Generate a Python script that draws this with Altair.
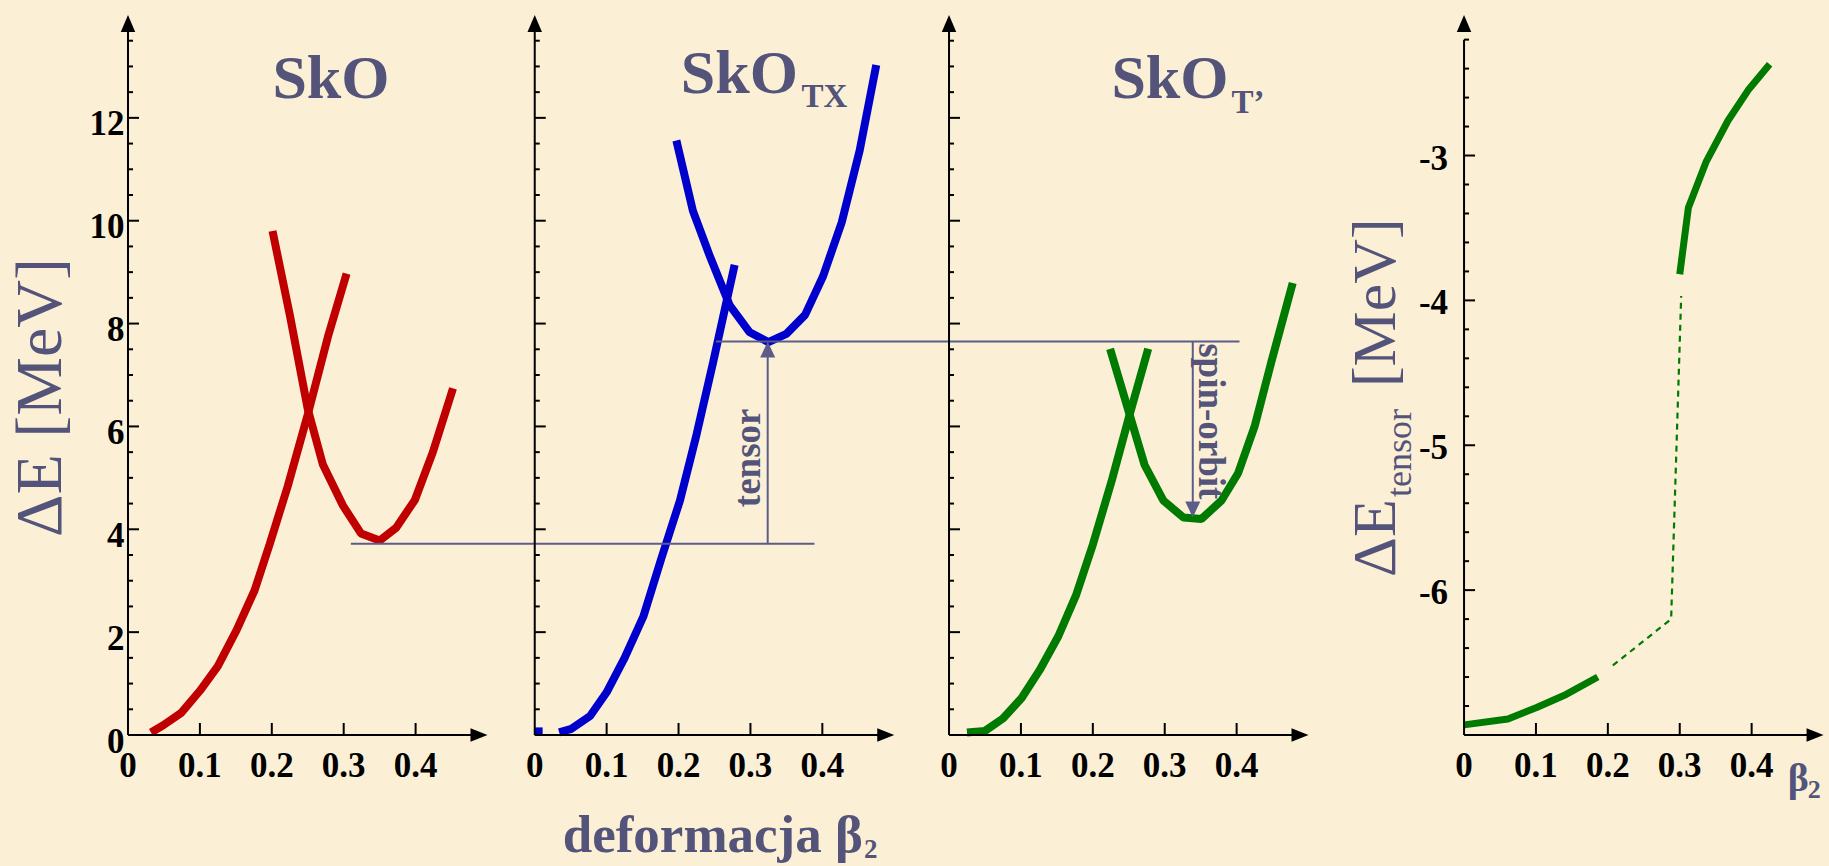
import altair as alt
import pandas as pd

# ---------------------------------------------------------------------------
# Layout: the four panels share one horizontal deformation scale; each panel
# starts at its own origin (in beta units) along that scale.
# ---------------------------------------------------------------------------
PX_PER_BETA = 719.0
PLOT_W, PLOT_H = 1701, 720
PAD = {"left": 128, "top": 15, "right": 0, "bottom": 131}
PANEL_ORIGIN = [0.0, 0.5657, 1.1419, 1.8582]
BETA_END = 0.5
X_MAX = PLOT_W / PX_PER_BETA
E_DOMAIN = [0, 14]
ET_DOMAIN = [-7, -2.03]

BG = "#FBF0D6"
INK = "#54547A"
RULE_C = "#5C5C88"
RED, BLUE, GREEN = "#C00000", "#0000CC", "#007A00"
SERIF = "Liberation Serif"

# ---------------------------------------------------------------------------
# Ticks and labels
# ---------------------------------------------------------------------------
BETA_TICKS = [0.1, 0.2, 0.3, 0.4]
BETA_LABEL_VALUES = [0, 0.1, 0.2, 0.3, 0.4]
BETA_LABELS = ["0", "0.1", "0.2", "0.3", "0.4"]
E_LABELS = [0, 2, 4, 6, 8, 10, 12]
E_MAJOR = [2, 4, 6, 8, 10, 12]
E_MINOR = [0.5, 1, 1.5, 2.5, 3, 3.5, 4.5, 5, 5.5, 6.5, 7, 7.5, 8.5, 9, 9.5,
           10.5, 11, 11.5, 12.5, 13, 13.5]
ET_MAJOR = [-6, -5, -4, -3]
ET_LABELS = ["-6", "-5", "-4", "-3"]
ET_MINOR = [-6.8, -6.6, -6.4, -6.2, -5.8, -5.6, -5.4, -5.2, -4.8, -4.6, -4.4,
            -4.2, -3.8, -3.6, -3.4, -3.2, -2.8, -2.6, -2.4, -2.2]

# ---------------------------------------------------------------------------
# Energy curves  (beta_2, Delta E in MeV)
# ---------------------------------------------------------------------------
sko_a_beta = [0.032, 0.049, 0.074, 0.100, 0.125, 0.151, 0.176, 0.197, 0.222, 0.250, 0.278, 0.304]
sko_a_E = [0.05, 0.19, 0.43, 0.86, 1.34, 2.04, 2.81, 3.71, 4.83, 6.23, 7.74, 8.97]
sko_b_beta = [0.201, 0.225, 0.250, 0.271, 0.299, 0.324, 0.350, 0.373, 0.399, 0.424, 0.452]
sko_b_E = [9.80, 8.17, 6.34, 5.26, 4.46, 3.92, 3.78, 4.03, 4.57, 5.50, 6.74]

tx_stub_beta = [0.0, 0.011]
tx_stub_E = [0.07, 0.07]
tx_a_beta = [0.034, 0.051, 0.077, 0.100, 0.125, 0.151, 0.176, 0.202, 0.225, 0.248, 0.278]
tx_a_E = [0.05, 0.12, 0.37, 0.83, 1.50, 2.30, 3.43, 4.56, 5.84, 7.24, 9.14]
tx_b_beta = [0.197, 0.220, 0.243, 0.271, 0.299, 0.325, 0.350, 0.376, 0.401, 0.427, 0.452, 0.475]
tx_b_E = [11.56, 10.19, 9.33, 8.36, 7.83, 7.64, 7.80, 8.17, 8.92, 9.97, 11.37, 13.03]

tp_a_beta = [0.025, 0.050, 0.075, 0.101, 0.126, 0.152, 0.177, 0.200, 0.226, 0.251, 0.277]
tp_a_E = [0.05, 0.08, 0.32, 0.72, 1.26, 1.92, 2.73, 3.70, 4.93, 6.22, 7.51]
tp_b_beta = [0.224, 0.249, 0.272, 0.298, 0.326, 0.351, 0.379, 0.402, 0.425, 0.448, 0.478]
tp_b_E = [7.51, 6.33, 5.25, 4.56, 4.23, 4.20, 4.56, 5.09, 6.00, 7.24, 8.79]

# tensor contribution  (beta_2, Delta E_tensor in MeV)
ten_a_beta = [0.0, 0.061, 0.101, 0.142, 0.186]
ten_a_E = [-6.93, -6.89, -6.81, -6.72, -6.60]
ten_gap_beta = [0.207, 0.288, 0.302]
ten_gap_E = [-6.52, -6.20, -3.97]
ten_b_beta = [0.300, 0.312, 0.337, 0.367, 0.395, 0.425]
ten_b_E = [-3.82, -3.36, -3.04, -2.76, -2.55, -2.37]

# reference levels and arrows
SKO_MIN_E = 3.72
TX_MIN_E = 7.65
TP_MIN_E = 4.23
LOW_LINE = (0, 0.31, 1, 0.389)      # (panel, beta) start -> (panel, beta) end
HIGH_LINE = (1, 0.252, 2, 0.404)
TENSOR_ARROW_BETA = 0.324
SPIN_ARROW_BETA = 0.339


def gx(panel, beta):
    return PANEL_ORIGIN[panel] + beta


def curve_rows(panel, name, betas, values, key="E"):
    return [{"x": gx(panel, b), key: v, "series": name, "i": k}
            for k, (b, v) in enumerate(zip(betas, values))]


X_SCALE = alt.Scale(domain=[0, X_MAX], nice=False, zero=False)
Y_SCALE = alt.Scale(domain=E_DOMAIN, nice=False, zero=False)
YT_SCALE = alt.Scale(domain=ET_DOMAIN, nice=False, zero=False)

# the zero label is nudged left so it clears the beta-axis "0" below it
Y_AXIS = alt.Axis(
    values=E_LABELS, format="d", grid=False, domain=False, ticks=False, tickSize=0,
    labelExpr="datum.value == 0 ? '0\u00a0\u00a0' : datum.label",
    labelFont=SERIF, labelFontWeight="bold", labelFontSize=35, labelColor="black",
    labelPadding=4, labelOffset=6,
    title="ΔE [MeV]", titleFont=SERIF, titleFontWeight="normal", titleFontSize=66,
    titleColor=INK, titleAngle=270, titleX=-68, titleY=382,
    titleAlign="center", titleBaseline="alphabetic",
)


def X():
    return alt.X("x:Q", scale=X_SCALE, axis=None)


def Y():
    return alt.Y("E:Q", scale=Y_SCALE, axis=Y_AXIS)


def YT():
    return alt.Y("ET:Q", scale=YT_SCALE, axis=None)


# ---------------------------------------------------------------------------
# Panels 1-3 : total energy curves
# ---------------------------------------------------------------------------
SERIES = ["sko_a", "sko_b", "tx_stub", "tx_a", "tx_b", "tp_a", "tp_b"]
SERIES_COLORS = [RED, RED, BLUE, BLUE, BLUE, GREEN, GREEN]
rows = (curve_rows(0, "sko_a", sko_a_beta, sko_a_E)
        + curve_rows(0, "sko_b", sko_b_beta, sko_b_E)
        + curve_rows(1, "tx_stub", tx_stub_beta, tx_stub_E)
        + curve_rows(1, "tx_a", tx_a_beta, tx_a_E)
        + curve_rows(1, "tx_b", tx_b_beta, tx_b_E)
        + curve_rows(2, "tp_a", tp_a_beta, tp_a_E)
        + curve_rows(2, "tp_b", tp_b_beta, tp_b_E))
curves_df = pd.DataFrame(rows)

curves = alt.Chart(curves_df).mark_line(strokeWidth=8, strokeCap="butt", strokeJoin="bevel").encode(
    x=X(), y=Y(),
    color=alt.Color("series:N", scale=alt.Scale(domain=SERIES, range=SERIES_COLORS), legend=None),
    detail="series:N", order="i:Q",
)

# axis lines (beta axes for all four panels sit at the same height)
xaxis_df = pd.DataFrame({"x": [gx(p, 0) for p in range(4)],
                         "x2": [gx(p, BETA_END - 0.01) for p in range(4)],
                         "E": [0] * 4})
xaxis_lines = alt.Chart(xaxis_df).mark_rule(color="black", strokeWidth=2).encode(
    x=X(), x2="x2:Q", y=Y())

xarrow_df = pd.DataFrame({"x": [gx(p, BETA_END) for p in range(4)], "E": [0] * 4})
xarrows = alt.Chart(xarrow_df).mark_point(
    shape="M1,0L-1,-0.8L-1,0.8Z", size=289, filled=True, opacity=1, color="black",
    strokeWidth=0, xOffset=-8.5).encode(x=X(), y=Y())

xtick_df = pd.DataFrame([{"x": gx(p, b), "E": 0} for p in range(4) for b in BETA_TICKS])
xticks = alt.Chart(xtick_df).mark_rule(color="black", strokeWidth=2, y2Offset=-12).encode(
    x=X(), y=Y(), y2="E:Q")

xlab_df = pd.DataFrame([{"x": gx(p, v), "E": 0, "t": t}
                        for p in range(4) for v, t in zip(BETA_LABEL_VALUES, BETA_LABELS)])
xlabels = alt.Chart(xlab_df).mark_text(
    font=SERIF, fontSize=35, fontWeight="bold", color="black",
    align="center", baseline="alphabetic", dy=42).encode(x=X(), y=Y(), text="t:N")

yaxis_df = pd.DataFrame({"x": [gx(p, 0) for p in range(3)], "E": [0] * 3, "E2": [13.8] * 3})
yaxis_lines = alt.Chart(yaxis_df).mark_rule(color="black", strokeWidth=2).encode(
    x=X(), y=Y(), y2="E2:Q")

yarrow_df = pd.DataFrame({"x": [gx(p, 0) for p in range(3)], "E": [E_DOMAIN[1]] * 3})
yarrows = alt.Chart(yarrow_df).mark_point(
    shape="M0,-1L-0.85,1L0.85,1Z", size=289, filled=True, opacity=1, color="black",
    strokeWidth=0, yOffset=8.5).encode(x=X(), y=Y())

ymaj_df = pd.DataFrame([{"x": gx(p, 0), "E": v} for p in range(3) for v in E_MAJOR])
ymin_df = pd.DataFrame([{"x": gx(p, 0), "E": v} for p in range(3) for v in E_MINOR])
ymaj = alt.Chart(ymaj_df).mark_rule(color="black", strokeWidth=2, x2Offset=11).encode(
    x=X(), x2="x:Q", y=Y())
ymin = alt.Chart(ymin_df).mark_rule(color="black", strokeWidth=2, x2Offset=5).encode(
    x=X(), x2="x:Q", y=Y())

# reference levels
hl_df = pd.DataFrame([
    {"x": gx(LOW_LINE[0], LOW_LINE[1]), "x2": gx(LOW_LINE[2], LOW_LINE[3]), "E": SKO_MIN_E},
    {"x": gx(HIGH_LINE[0], HIGH_LINE[1]), "x2": gx(HIGH_LINE[2], HIGH_LINE[3]), "E": TX_MIN_E},
])
hlines = alt.Chart(hl_df).mark_rule(color=RULE_C, strokeWidth=2).encode(x=X(), x2="x2:Q", y=Y())

arrow_df = pd.DataFrame([
    {"x": gx(1, TENSOR_ARROW_BETA), "E": SKO_MIN_E, "E2": TX_MIN_E - 0.2},
    {"x": gx(2, SPIN_ARROW_BETA), "E": TX_MIN_E, "E2": TP_MIN_E + 0.2},
])
arrow_lines = alt.Chart(arrow_df).mark_rule(color=RULE_C, strokeWidth=2).encode(
    x=X(), y=Y(), y2="E2:Q")
up_head = alt.Chart(pd.DataFrame({"x": [gx(1, TENSOR_ARROW_BETA)], "E": [TX_MIN_E]})).mark_point(
    shape="M0,-1L-0.94,1L0.94,1Z", size=256, filled=True, opacity=1, color=RULE_C,
    strokeWidth=0, yOffset=8).encode(x=X(), y=Y())
down_head = alt.Chart(pd.DataFrame({"x": [gx(2, SPIN_ARROW_BETA)], "E": [TP_MIN_E]})).mark_point(
    shape="M0,1L-0.94,-1L0.94,-1Z", size=256, filled=True, opacity=1, color=RULE_C,
    strokeWidth=0, yOffset=-8).encode(x=X(), y=Y())

tensor_txt = alt.Chart(pd.DataFrame({"x": [gx(1, 0.3129)], "E": [5.39], "t": ["tensor"]})).mark_text(
    font=SERIF, fontSize=37, fontWeight="bold", color=INK, angle=270,
    align="center", baseline="alphabetic").encode(x=X(), y=Y(), text="t:N")
spin_txt = alt.Chart(pd.DataFrame({"x": [gx(2, 0.3473)], "E": [6.10], "t": ["spin-orbit"]})).mark_text(
    font=SERIF, fontSize=37, fontWeight="bold", color=INK, angle=90,
    align="center", baseline="alphabetic").encode(x=X(), y=Y(), text="t:N")

# panel titles
title_df = pd.DataFrame([
    {"x": gx(0, 0.2008), "E": 12.38, "t": "SkO"},
    {"x": gx(1, 0.2030), "E": 12.48, "t": "SkO"},
    {"x": gx(2, 0.2258), "E": 12.39, "t": "SkO"},
])
sub_df = pd.DataFrame([
    {"x": gx(1, 0.3709), "E": 12.22, "t": "TX"},
    {"x": gx(2, 0.3927), "E": 12.09, "t": "T’"},
])
titles = alt.Chart(title_df).mark_text(
    font=SERIF, fontSize=62, fontWeight="bold", color=INK, align="left",
    baseline="alphabetic").encode(x=X(), y=Y(), text="t:N")
subs = alt.Chart(sub_df).mark_text(
    font=SERIF, fontSize=33, fontWeight="bold", color=INK, align="left",
    baseline="alphabetic").encode(x=X(), y=Y(), text="t:N")

# beta axis titles
xt_df = pd.DataFrame([{"x": gx(1, 0.0389), "E": 0, "t": "deformacja β"}])
xt_sub_df = pd.DataFrame([{"x": gx(1, 0.4580), "E": 0, "t": "2"}])
xtitle = alt.Chart(xt_df).mark_text(
    font=SERIF, fontSize=53, fontWeight="bold", color=INK, align="left",
    baseline="alphabetic", dy=117).encode(x=X(), y=Y(), text="t:N")
xtitle_sub = alt.Chart(xt_sub_df).mark_text(
    font=SERIF, fontSize=27, fontWeight="bold", color=INK, align="left",
    baseline="alphabetic", dy=123).encode(x=X(), y=Y(), text="t:N")

b4_df = pd.DataFrame([{"x": gx(3, 0.4502), "E": 0, "t": "β"}])
b4_sub_df = pd.DataFrame([{"x": gx(3, 0.478), "E": 0, "t": "2"}])
b4 = alt.Chart(b4_df).mark_text(
    font=SERIF, fontSize=40, fontWeight="bold", color=INK, align="left",
    baseline="alphabetic", dy=56).encode(x=X(), y=Y(), text="t:N")
b4_sub = alt.Chart(b4_sub_df).mark_text(
    font=SERIF, fontSize=26, fontWeight="bold", color=INK, align="left",
    baseline="alphabetic", dy=63).encode(x=X(), y=Y(), text="t:N")

energy = alt.layer(
    curves, hlines, arrow_lines, up_head, down_head, tensor_txt, spin_txt,
    xaxis_lines, xarrows, xticks, xlabels, yaxis_lines, yarrows, ymaj, ymin,
    titles, subs, xtitle, xtitle_sub, b4, b4_sub,
)

# ---------------------------------------------------------------------------
# Panel 4 : tensor energy
# ---------------------------------------------------------------------------
ten_solid_df = pd.DataFrame(curve_rows(3, "a", ten_a_beta, ten_a_E, key="ET")
                            + curve_rows(3, "b", ten_b_beta, ten_b_E, key="ET"))
ten_dash_df = pd.DataFrame(curve_rows(3, "gap", ten_gap_beta, ten_gap_E, key="ET"))

ten_solid = alt.Chart(ten_solid_df).mark_line(
    color=GREEN, strokeWidth=7, strokeCap="butt", strokeJoin="bevel").encode(
    x=X(), y=YT(), detail="series:N", order="i:Q")
ten_dash = alt.Chart(ten_dash_df).mark_line(
    color=GREEN, strokeWidth=2.2, strokeDash=[6, 5]).encode(x=X(), y=YT(), order="i:Q")

t_axis = alt.Chart(pd.DataFrame({"x": [gx(3, 0)], "ET": [ET_DOMAIN[0]], "ET2": [-2.2]})).mark_rule(
    color="black", strokeWidth=2).encode(x=X(), y=YT(), y2="ET2:Q")
t_arrow = alt.Chart(pd.DataFrame({"x": [gx(3, 0)], "ET": [ET_DOMAIN[1]]})).mark_point(
    shape="M0,-1L-0.85,1L0.85,1Z", size=289, filled=True, opacity=1, color="black",
    strokeWidth=0, yOffset=8.5).encode(x=X(), y=YT())
t_maj = alt.Chart(pd.DataFrame({"x": [gx(3, 0)] * len(ET_MAJOR), "ET": ET_MAJOR})).mark_rule(
    color="black", strokeWidth=2, x2Offset=11).encode(x=X(), x2="x:Q", y=YT())
t_min = alt.Chart(pd.DataFrame({"x": [gx(3, 0)] * len(ET_MINOR), "ET": ET_MINOR})).mark_rule(
    color="black", strokeWidth=2, x2Offset=5).encode(x=X(), x2="x:Q", y=YT())
t_labels = alt.Chart(pd.DataFrame({"x": [gx(3, 0)] * len(ET_MAJOR), "ET": ET_MAJOR, "t": ET_LABELS})).mark_text(
    font=SERIF, fontSize=35, fontWeight="bold", color="black", align="right",
    baseline="middle", dx=-16, dy=3).encode(x=X(), y=YT(), text="t:N")

t_title_df = pd.DataFrame([
    {"x": gx(3, -0.0964), "ET": -5.909, "t": "ΔE"},
    {"x": gx(3, -0.0964), "ET": -4.598, "t": "[MeV]"},
])
t_title = alt.Chart(t_title_df).mark_text(
    font=SERIF, fontSize=62, color=INK, angle=270, align="left",
    baseline="alphabetic").encode(x=X(), y=YT(), text="t:N")
t_title_sub = alt.Chart(pd.DataFrame([{"x": gx(3, -0.0732), "ET": -5.357, "t": "tensor"}])).mark_text(
    font=SERIF, fontSize=36, color=INK, angle=270, align="left",
    baseline="alphabetic").encode(x=X(), y=YT(), text="t:N")

tensor_panel = alt.layer(ten_solid, ten_dash, t_axis, t_arrow, t_maj, t_min, t_labels,
                         t_title, t_title_sub)

chart = alt.layer(energy, tensor_panel).resolve_scale(y="independent").properties(
    width=PLOT_W, height=PLOT_H, padding=PAD,
    autosize=alt.AutoSizeParams(type="none"), background=BG,
).configure_view(stroke=None)

chart.save("out.html", embed_options={"renderer": "svg", "actions": False})
